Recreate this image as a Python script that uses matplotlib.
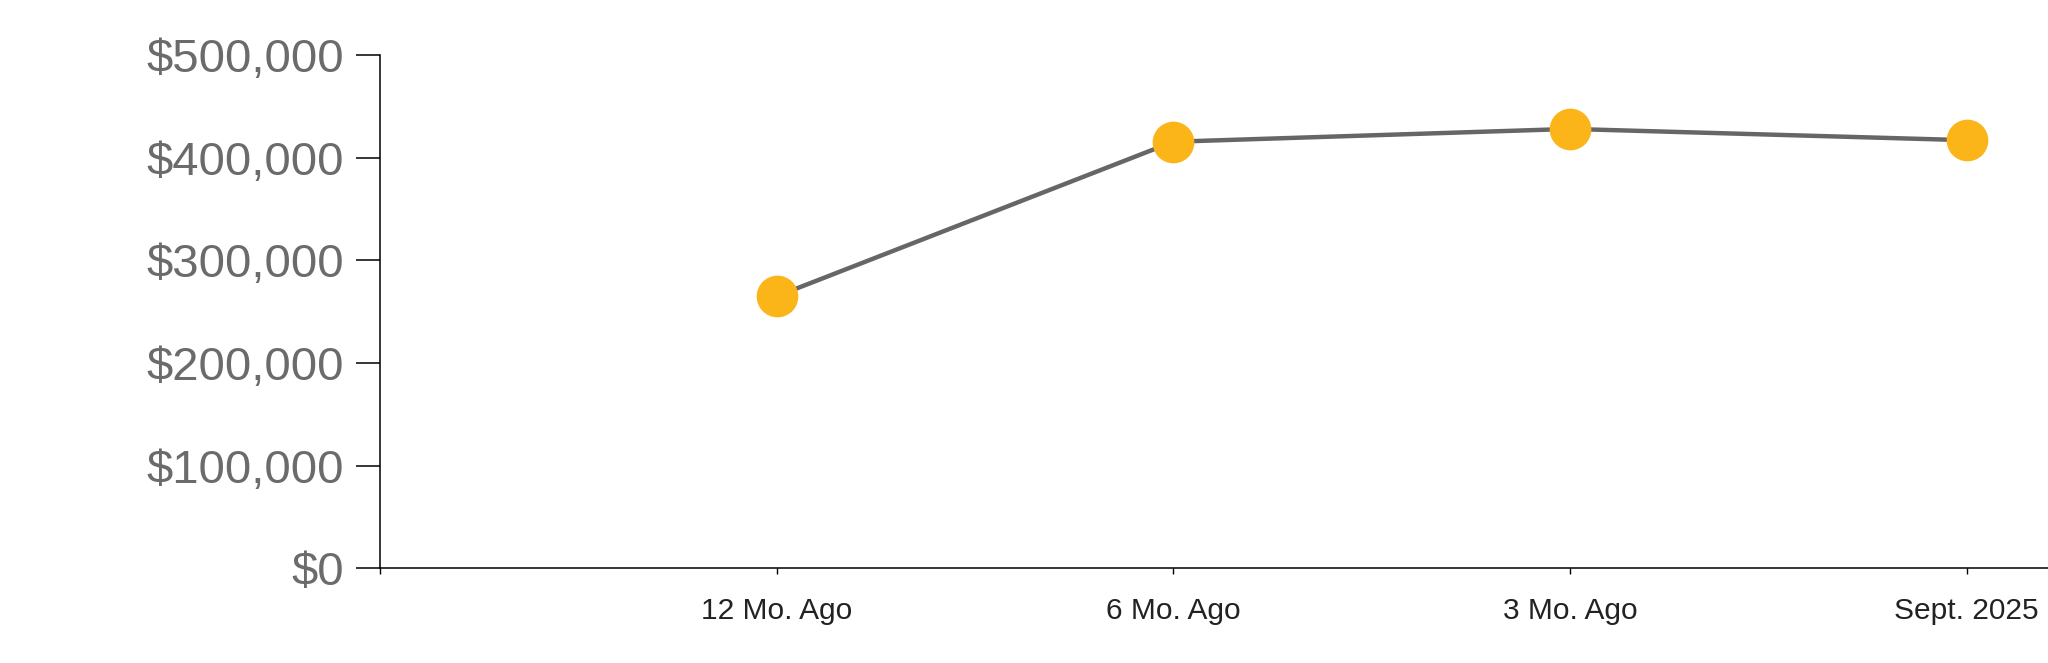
import matplotlib
matplotlib.use("Agg")
import matplotlib.pyplot as plt
from matplotlib.ticker import FuncFormatter

# data
categories = ["12 Mo. Ago", "6 Mo. Ago", "3 Mo. Ago", "Sept. 2025"]
prices = [265000, 415500, 428000, 417000]
y_ticks = [0, 100000, 200000, 300000, 400000, 500000]

LINE = "#666666"
DOT = "#FBB519"
YLAB = "#6b6b6b"
XLAB = "#222222"

plt.rcParams["font.family"] = ["Liberation Sans", "DejaVu Sans"]

fig = plt.figure(figsize=(20.48, 6.63), dpi=100)
ax = fig.add_axes([380 / 2048, 1 - 568.3 / 663, 1 - 380 / 2048, (568.3 - 55) / 663])

xs = list(range(1, len(categories) + 1))
ax.plot(xs, prices, color=LINE, lw=3.2, zorder=2, solid_capstyle="butt")
ax.plot(xs, prices, ls="none", marker="o", ms=29, color=DOT, mec=DOT, zorder=3)

ax.set_xlim(0, (2048 - 380) / ((1967 - 777) / 3))
ax.set_ylim(0, 500000)

for s in ("top", "right"):
    ax.spines[s].set_visible(False)
for s in ("left", "bottom"):
    ax.spines[s].set_color("black")
    ax.spines[s].set_linewidth(1.1)

ax.set_yticks(y_ticks)
ax.yaxis.set_major_formatter(FuncFormatter(lambda v, p: f"${v:,.0f}"))
ax.tick_params(axis="y", length=17, width=1.1, pad=9, labelsize=34, labelcolor=YLAB)

ax.set_xticks([0] + xs)
ax.set_xticklabels([""] + categories)
ax.tick_params(axis="x", length=4.5, width=1.0, pad=16, labelsize=21.5, labelcolor=XLAB)

fig.savefig("out.png", dpi=100)
